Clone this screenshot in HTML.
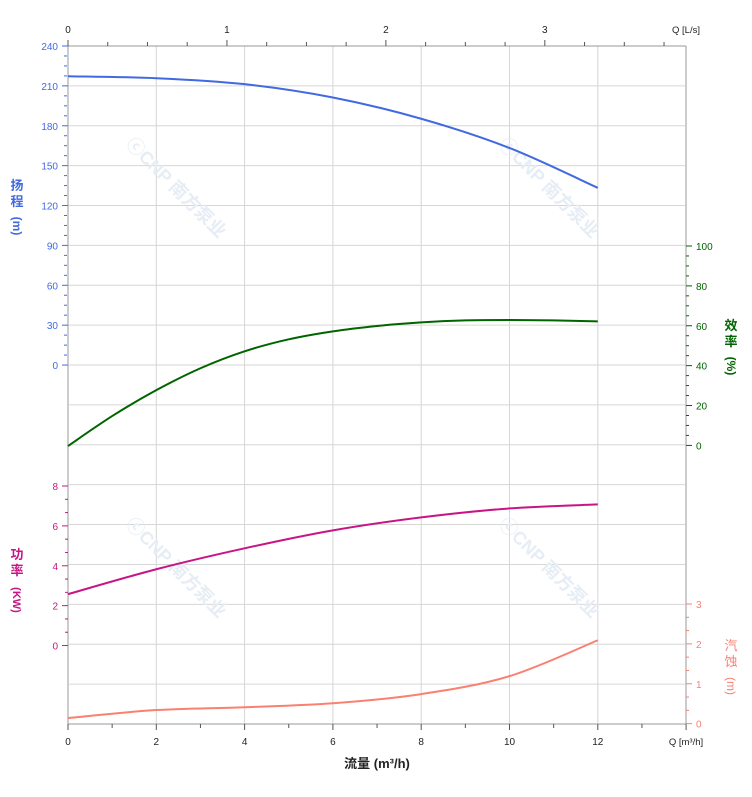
<!DOCTYPE html>
<html><head><meta charset="utf-8"><style>
html,body{margin:0;padding:0;background:#fff;}
svg{display:block;font-family:"Liberation Sans","Noto Sans CJK SC",sans-serif;}
</style></head><body>
<svg id="c" width="752" height="797" xmlns="http://www.w3.org/2000/svg"></svg>
<script>
const s=document.getElementById('c');let h='';
const X=q=>68+q*44.15, Y0=46, dy=39.88;
for(let i=0;i<=17;i++){const y=Y0+i*dy;h+=`<line x1="68" x2="686" y1="${y}" y2="${y}" stroke="#d6d6d6" stroke-width="1"/>`;}
for(let q=2;q<=14;q+=2){h+=`<line x1="${X(q)}" x2="${X(q)}" y1="46" y2="724" stroke="#d6d6d6"/>`;}
h+=`<line x1="68" x2="68" y1="46" y2="724" stroke="#ccc" stroke-width="2"/>`;
h+=`<line x1="686" x2="686" y1="46" y2="724" stroke="#ccc" stroke-width="2"/>`;
h+=`<line x1="68" x2="686" y1="46" y2="46" stroke="#999"/>`;
h+=`<line x1="68" x2="686" y1="724" y2="724" stroke="#999"/>`;
// watermarks
[[125,145],[498,145],[125,525],[498,525]].forEach(([x,y])=>{h+=`<text x="${x}" y="${y}" font-size="18" font-weight="bold" fill="#e6edf4" transform="rotate(45 ${x} ${y})">ⓒCNP 南方泵业</text>`;});
for(let q=0;q<=14;q+=1){const big=q%2==0;const x=X(q);h+=`<line x1="${x}" x2="${x}" y1="724" y2="${big?730:728}" stroke="#555"/>`;}
for(let q=0;q<=12;q+=2)h+=`<text x="${X(q)}" y="745" font-size="10" text-anchor="middle" fill="#222">${q}</text>`;
h+=`<text x="686" y="745" font-size="9.5" text-anchor="middle" fill="#222">Q [m³/h]</text>`;
h+=`<text x="377" y="768" font-size="13" font-weight="bold" text-anchor="middle" fill="#222">流量 (m³/h)</text>`;
for(let l=0;l<=3.75;l+=0.25){const x=X(l*3.6);if(x>686)break;const big=Math.abs(l-Math.round(l))<0.01;h+=`<line x1="${x}" x2="${x}" y1="46" y2="${big?40:42}" stroke="#555"/>`;}
for(let l=0;l<=3;l++)h+=`<text x="${X(l*3.6)}" y="33" font-size="10" text-anchor="middle" fill="#222">${l}</text>`;
h+=`<text x="686" y="33" font-size="9.5" text-anchor="middle" fill="#222">Q [L/s]</text>`;
for(let i=0;i<=8;i++){const y=Y0+i*dy;h+=`<line x1="62" x2="68" y1="${y}" y2="${y}" stroke="#4169e1"/><text x="58" y="${y+4}" font-size="10" text-anchor="end" fill="#4169e1">${240-30*i}</text>`;
 if(i<8)for(let k=1;k<4;k++)h+=`<line x1="64" x2="67" y1="${y+k*dy/4}" y2="${y+k*dy/4}" stroke="#4169e1"/>`;}
h+=`<text x="17" y="190" font-size="13" font-weight="bold" fill="#4169e1" text-anchor="middle">扬</text><text x="17" y="206" font-size="13" font-weight="bold" fill="#4169e1" text-anchor="middle">程</text><text x="17" y="230" font-size="12" font-weight="bold" fill="#4169e1" text-anchor="middle" transform="rotate(90 17 226)">(m)</text>`;
for(let i=0;i<=4;i++){const y=486+i*dy;h+=`<line x1="62" x2="68" y1="${y}" y2="${y}" stroke="#c71585"/><text x="58" y="${y+4}" font-size="10" text-anchor="end" fill="#c71585">${8-2*i}</text>`;
 if(i<4)for(let k=1;k<3;k++)h+=`<line x1="65" x2="68" y1="${y+k*dy/3}" y2="${y+k*dy/3}" stroke="#c71585"/>`;}
h+=`<text x="17" y="559" font-size="13" font-weight="bold" fill="#c71585" text-anchor="middle">功</text><text x="17" y="575" font-size="13" font-weight="bold" fill="#c71585" text-anchor="middle">率</text><text x="17" y="604" font-size="11" font-weight="bold" fill="#c71585" text-anchor="middle" transform="rotate(90 17 600)">(KW)</text>`;
for(let i=0;i<=5;i++){const y=246+i*dy;h+=`<line x1="686" x2="692" y1="${y}" y2="${y}" stroke="#006400"/><text x="696" y="${y+4}" font-size="10" fill="#006400">${100-20*i}</text>`;
 if(i<5)for(let k=1;k<4;k++)h+=`<line x1="686" x2="689" y1="${y+k*dy/4}" y2="${y+k*dy/4}" stroke="#006400"/>`;}
h+=`<text x="731" y="330" font-size="13" font-weight="bold" fill="#006400" text-anchor="middle">效</text><text x="731" y="346" font-size="13" font-weight="bold" fill="#006400" text-anchor="middle">率</text><text x="731" y="370" font-size="12" font-weight="bold" fill="#006400" text-anchor="middle" transform="rotate(90 731 366)">(%)</text>`;
for(let i=0;i<=3;i++){const y=604+i*dy;h+=`<line x1="686" x2="692" y1="${y}" y2="${y}" stroke="#fa8072"/><text x="696" y="${y+4}" font-size="10" fill="#fa8072">${3-i}</text>`;
 if(i<3)for(let k=1;k<3;k++)h+=`<line x1="686" x2="689" y1="${y+k*dy/3}" y2="${y+k*dy/3}" stroke="#fa8072"/>`;}
h+=`<text x="731" y="650" font-size="13" fill="#fa8072" text-anchor="middle">汽</text><text x="731" y="666" font-size="13" fill="#fa8072" text-anchor="middle">蚀</text><text x="731" y="690" font-size="12" fill="#fa8072" text-anchor="middle" transform="rotate(90 731 686)">(m)</text>`;
function curve(pts,fy,col){const n=pts.length;
 const P=pts.map(p=>[X(p[0]),fy(p[1])]);let d='M'+P[0][0]+','+P[0][1];
 for(let i=0;i<n-1;i++){const p0=P[Math.max(0,i-1)],p1=P[i],p2=P[i+1],p3=P[Math.min(n-1,i+2)];
 d+=` C${p1[0]+(p2[0]-p0[0])/6},${p1[1]+(p2[1]-p0[1])/6} ${p2[0]-(p3[0]-p1[0])/6},${p2[1]-(p3[1]-p1[1])/6} ${p2[0]},${p2[1]}`;}
 h+=`<path d="${d}" fill="none" stroke="${col}" stroke-width="2"/>`;}
curve([[0,218],[2,216.5],[4,212],[6,202],[8,186],[10,164],[12,134]],v=>366-v*dy/30,'#4169e1');
curve([[0,0],[1,15],[2,28],[3,39],[4,47.5],[5,53.5],[6,57.5],[7,60.2],[8,62],[9,63],[10,63.2],[11,63],[12,62.5]],v=>446-v*dy/20,'#006400');
curve([[0,2.6],[2,3.85],[4,4.9],[6,5.8],[8,6.45],[10,6.9],[12,7.1]],v=>646-v*dy/2,'#c71585');
curve([[0,0.15],[2,0.35],[4,0.42],[6,0.52],[8,0.75],[10,1.2],[12,2.1]],v=>724-v*dy,'#fa8072');
s.innerHTML=h;
</script>
</body></html>
